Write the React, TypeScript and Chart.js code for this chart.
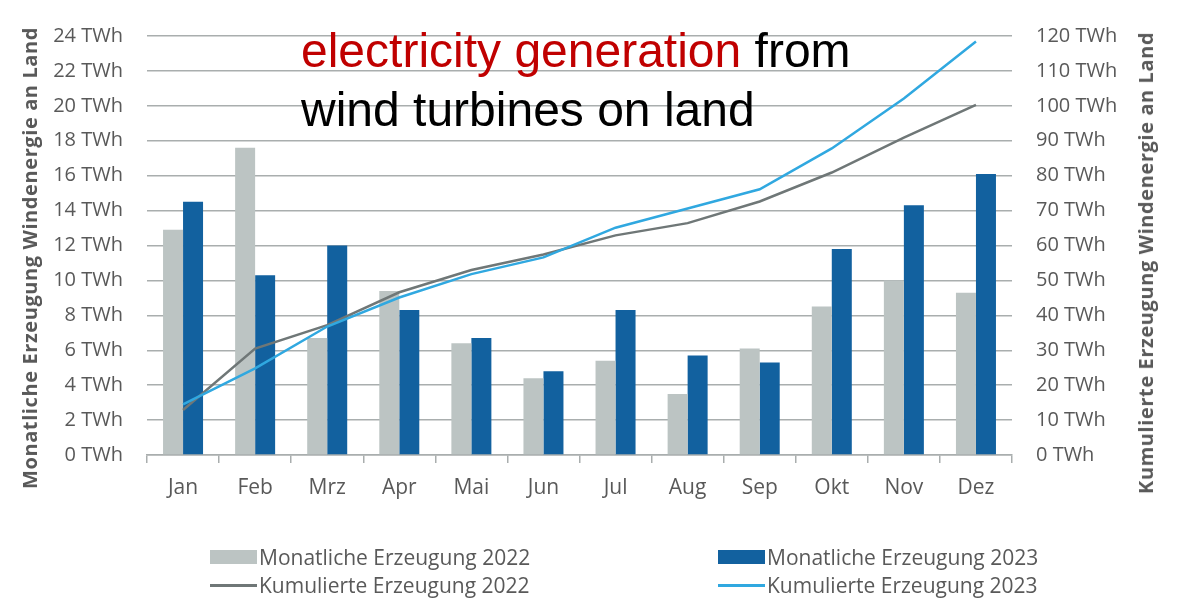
import React, { useEffect, useRef } from 'react';
import { Chart, registerables } from 'chart.js';

Chart.register(...registerables);

const MONTHS = ['Jan', 'Feb', 'Mrz', 'Apr', 'Mai', 'Jun', 'Jul', 'Aug', 'Sep', 'Okt', 'Nov', 'Dez'];
const MONTHLY_2022 = [12.9, 17.6, 6.7, 9.4, 6.4, 4.4, 5.4, 3.5, 6.1, 8.5, 10.0, 9.3];
const MONTHLY_2023 = [14.5, 10.3, 12.0, 8.3, 6.7, 4.8, 8.3, 5.7, 5.3, 11.8, 14.3, 16.1];
const CUMULATIVE_2022 = [12.9, 30.5, 37.2, 46.6, 53.0, 57.4, 62.9, 66.4, 72.6, 80.9, 90.9, 100.3];
const CUMULATIVE_2023 = [14.5, 24.8, 36.8, 45.1, 51.8, 56.6, 65.1, 70.6, 76.1, 87.8, 102.1, 118.4];
const LEFT_TICKS = ['0 TWh', '2 TWh', '4 TWh', '6 TWh', '8 TWh', '10 TWh', '12 TWh', '14 TWh', '16 TWh', '18 TWh', '20 TWh', '22 TWh', '24 TWh'];
const RIGHT_TICKS = ['0 TWh', '10 TWh', '20 TWh', '30 TWh', '40 TWh', '50 TWh', '60 TWh', '70 TWh', '80 TWh', '90 TWh', '100 TWh', '110 TWh', '120 TWh'];
const LEGEND_LABELS = ['Monatliche Erzeugung 2022', 'Monatliche Erzeugung 2023', 'Kumulierte Erzeugung 2022', 'Kumulierte Erzeugung 2023'];
const LEFT_TITLE = 'Monatliche Erzeugung Windenergie an Land';
const RIGHT_TITLE = 'Kumulierte Erzeugung Windenergie an Land';

const C_GRAY_BAR = '#bcc4c3';
const C_BLUE_BAR = '#12619f';
const C_GRAY_LINE = '#6f7777';
const C_BLUE_LINE = '#30a8e0';
const C_GRID = '#a9aeae';
const C_TEXT = '#595959';
const FONT = "'Open Sans', 'Noto Sans', sans-serif";

const W = 1181;
const H = 599;

export default function App() {
  const canvasRef = useRef<HTMLCanvasElement | null>(null);

  useEffect(() => {
    document.body.style.margin = '0';
    const canvas = canvasRef.current;
    if (!canvas) return;
    const chart = new Chart(canvas, {
      type: 'bar',
      data: {
        labels: MONTHS,
        datasets: [
          {
            type: 'bar',
            label: LEGEND_LABELS[0],
            data: MONTHLY_2022,
            backgroundColor: C_GRAY_BAR,
            borderWidth: 0,
            yAxisID: 'y',
            order: 2,
            categoryPercentage: 0.555,
            barPercentage: 1.0,
          },
          {
            type: 'bar',
            label: LEGEND_LABELS[1],
            data: MONTHLY_2023,
            backgroundColor: C_BLUE_BAR,
            borderWidth: 0,
            yAxisID: 'y',
            order: 2,
            categoryPercentage: 0.555,
            barPercentage: 1.0,
          },
          {
            type: 'line',
            label: LEGEND_LABELS[2],
            data: CUMULATIVE_2022,
            borderColor: C_GRAY_LINE,
            backgroundColor: C_GRAY_LINE,
            borderWidth: 2.5,
            pointRadius: 0,
            tension: 0,
            yAxisID: 'y1',
            order: 1,
          },
          {
            type: 'line',
            label: LEGEND_LABELS[3],
            data: CUMULATIVE_2023,
            borderColor: C_BLUE_LINE,
            backgroundColor: C_BLUE_LINE,
            borderWidth: 2.5,
            pointRadius: 0,
            tension: 0,
            yAxisID: 'y1',
            order: 0,
          },
        ] as any,
      },
      options: {
        responsive: false,
        animation: false,
        maintainAspectRatio: false,
        layout: { padding: { top: 18, left: 0, right: 0, bottom: 0 } },
        plugins: {
          legend: { display: false },
          tooltip: { enabled: false },
          title: { display: false },
        },
        scales: {
          x: {
            type: 'category',
            offset: true,
            grid: {
              offset: true,
              drawOnChartArea: false,
              drawTicks: true,
              tickLength: 8,
              color: C_GRID,
              lineWidth: 1.5,
            },
            border: { display: true, color: C_GRID, width: 1.5 },
            ticks: {
              color: C_TEXT,
              font: { family: FONT, size: 21 },
              padding: 12,
              maxRotation: 0,
            },
            afterFit: (scale: any) => {
              scale.height = 144;
            },
          },
          y: {
            type: 'linear',
            position: 'left',
            min: 0,
            max: 24,
            grid: {
              drawTicks: false,
              color: C_GRID,
              lineWidth: 1.5,
            },
            border: { display: false },
            ticks: {
              stepSize: 2,
              color: C_TEXT,
              font: { family: FONT, size: 20 },
              padding: 24,
              callback: (_v: any, i: number) => LEFT_TICKS[i],
            },
            afterFit: (scale: any) => {
              scale.width = 147;
            },
          },
          y1: {
            type: 'linear',
            position: 'right',
            min: 0,
            max: 120,
            grid: { display: false, drawTicks: false },
            border: { display: false },
            ticks: {
              stepSize: 10,
              color: C_TEXT,
              font: { family: FONT, size: 20 },
              padding: 24,
              callback: (_v: any, i: number) => RIGHT_TICKS[i],
            },
            afterFit: (scale: any) => {
              scale.width = 169;
            },
          },
        },
      } as any,
    });
    return () => chart.destroy();
  }, []);

  const legendText: React.CSSProperties = {
    position: 'absolute',
    fontFamily: FONT,
    fontSize: 21,
    color: C_TEXT,
    whiteSpace: 'nowrap',
    lineHeight: '26px',
    transform: 'translateY(-50%)',
  };
  const axisTitle: React.CSSProperties = {
    position: 'absolute',
    fontFamily: FONT,
    fontWeight: 700,
    fontSize: 20,
    letterSpacing: '0.6px',
    color: C_TEXT,
    whiteSpace: 'nowrap',
    lineHeight: '24px',
    transform: 'translate(-50%, -50%) rotate(-90deg)',
  };

  const legendItems = [
    { x: 210, y: 557, kind: 'box', color: C_GRAY_BAR, label: LEGEND_LABELS[0] },
    { x: 718, y: 557, kind: 'box', color: C_BLUE_BAR, label: LEGEND_LABELS[1] },
    { x: 210, y: 585, kind: 'line', color: C_GRAY_LINE, label: LEGEND_LABELS[2] },
    { x: 718, y: 585, kind: 'line', color: C_BLUE_LINE, label: LEGEND_LABELS[3] },
  ];

  return (
    <div style={{ position: 'relative', width: W, height: H, overflow: 'hidden', background: '#fff' }}>
      <canvas ref={canvasRef} width={W} height={H} style={{ display: 'block', width: W, height: H }} />
      <div style={{ ...axisTitle, left: 30, top: 258 }}>{LEFT_TITLE}</div>
      <div style={{ ...axisTitle, left: 1146, top: 263 }}>{RIGHT_TITLE}</div>
      <div
        style={{
          position: 'absolute',
          left: 301,
          top: 21,
          fontFamily: "'Liberation Sans', Arial, sans-serif",
          fontSize: 48,
          lineHeight: '59px',
          color: '#000',
          whiteSpace: 'nowrap',
        }}
      >
        <div>
          <span style={{ color: '#c00000' }}>electricity generation</span> from
        </div>
        <div>wind turbines on land</div>
      </div>
      {legendItems.map((it, i) => (
        <React.Fragment key={i}>
          {it.kind === 'box' ? (
            <div style={{ position: 'absolute', left: it.x, top: it.y - 7, width: 47, height: 14, background: it.color }} />
          ) : (
            <div style={{ position: 'absolute', left: it.x, top: it.y - 1.5, width: 47, height: 3, background: it.color }} />
          )}
          <div style={{ ...legendText, left: it.x + 49, top: it.y }}>{it.label}</div>
        </React.Fragment>
      ))}
    </div>
  );
}
